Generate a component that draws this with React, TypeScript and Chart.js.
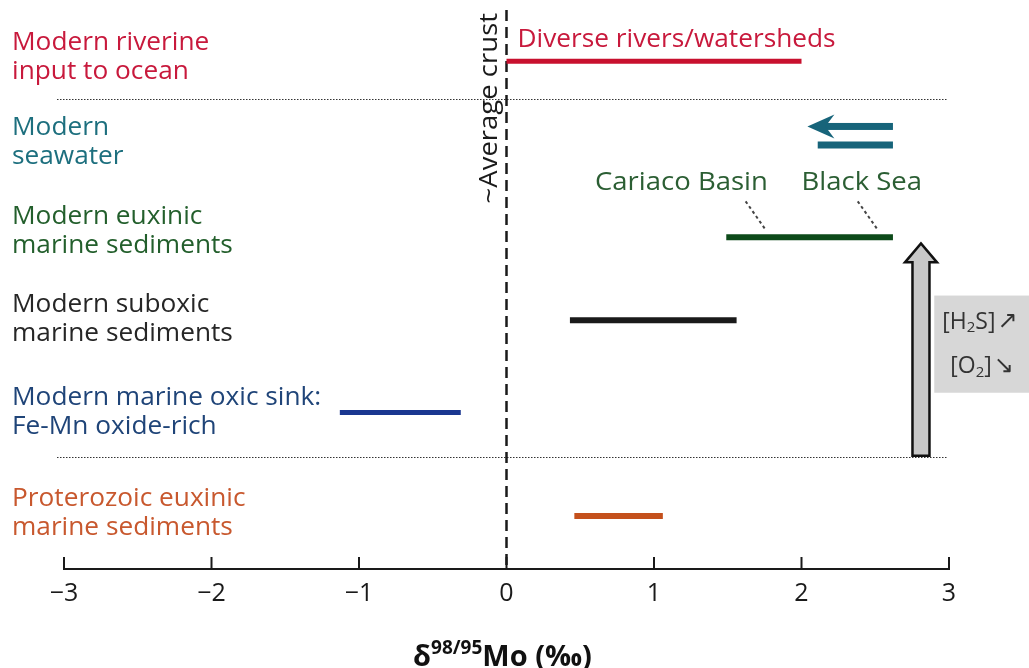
import React, { useEffect, useRef } from "react";
import { Chart, registerables } from "chart.js";
Chart.register(...registerables);

// ---------------- data ----------------
const rowLabels: string[][] = [
  ["Modern riverine", "input to ocean"],
  ["Modern", "seawater"],
  ["Modern euxinic", "marine sediments"],
  ["Modern suboxic", "marine sediments"],
  ["Modern marine oxic sink:", "Fe-Mn oxide-rich"],
  ["Proterozoic euxinic", "marine sediments"],
];
const riverineRange = [0, 2.0];
const seawaterArrowRange = [2.04, 2.62];
const seawaterRange = [2.11, 2.62];
const euxinicRange = [1.49, 2.62];
const suboxicRange = [0.43, 1.56];
const oxicRange = [-1.13, -0.31];
const proterozoicRange = [0.46, 1.06];
const xTickValues = [-3, -2, -1, 0, 1, 2, 3];
const averageCrustValue = 0;
const averageCrustLabel = "~Average crust";
const riverineNote = "Diverse rivers/watersheds";
const basinLabels = ["Cariaco Basin", "Black Sea"];
const basinLabelLeft = [0.6, 2.0];
const basinLeaderValues = [1.75, 2.51];
const trendArrowValue = 2.81;
const trendLabels = [["[H", "2", "S]", "\u2197"], ["[O", "2", "]", "\u2198"]];
const axisTitleParts = ["\u03b4", "98/95", "Mo (\u2030)"];

// ---------------- layout / style ----------------
const W = 1029;
const H = 668;
const FONT = '"Open Sans", "DejaVu Sans", sans-serif';
const rowTextColors = ["#c8193c", "#1d6f7e", "#235f2c", "#262626", "#1f4478", "#c8582e"];
const rowLabelY = [0.505, 1.42, 2.376, 3.32, 4.32, 5.4];
const rowY = { riverine: 0.55, seawaterArrow: 1.25, seawater: 1.45, euxinic: 2.44, suboxic: 3.33, oxic: 4.32, proterozoic: 5.43 };
const separatorY = [0.957, 4.796];
const basinLabelY = 1.86;
const riverineNoteY = 0.323;
const boxY = [3.065, 4.108];
const boxLeftValue = 2.9;
const trendLabelY = [3.35, 3.83];
const crustLabelY = 1.054;

function seg(range: number[], y: number, color: string, width: number) {
  return {
    type: "line" as const,
    data: [
      { x: range[0], y },
      { x: range[1], y },
    ],
    borderColor: color,
    borderWidth: width,
    borderCapStyle: "butt" as const,
    pointRadius: 0,
    showLine: true,
    fill: false,
  };
}

function drawText(ctx: CanvasRenderingContext2D, text: string, x: number, y: number, font: string, color: string, sx = 1.05, align: CanvasTextAlign = "left") {
  ctx.save();
  ctx.font = font;
  ctx.fillStyle = color;
  ctx.textBaseline = "middle";
  ctx.textAlign = align;
  ctx.translate(x, y);
  ctx.scale(sx, 1);
  ctx.fillText(text, 0, 0);
  ctx.restore();
}

const overlay = {
  id: "overlay",
  beforeDatasetsDraw(chart: any) {
    const { ctx, chartArea, scales } = chart;
    const xs = scales.x;
    const ys = scales.y;
    ctx.save();
    // separators
    ctx.strokeStyle = "#333";
    ctx.lineWidth = 1.2;
    ctx.setLineDash([1.5, 1.5]);
    separatorY.forEach((v) => {
      const y = Math.round(ys.getPixelForValue(v)) + 0.5;
      ctx.beginPath();
      ctx.moveTo(xs.left - 7, y);
      ctx.lineTo(xs.right - 2, y);
      ctx.stroke();
    });
    // dashed average crust line
    const cx = xs.getPixelForValue(averageCrustValue);
    ctx.setLineDash([11, 6]);
    ctx.lineWidth = 2.5;
    ctx.strokeStyle = "#1a1a1a";
    ctx.beginPath();
    ctx.moveTo(cx, chartArea.top);
    ctx.lineTo(cx, chartArea.bottom);
    ctx.stroke();
    ctx.setLineDash([]);
    // gray box
    const bx = xs.getPixelForValue(boxLeftValue);
    const by0 = ys.getPixelForValue(boxY[0]);
    const by1 = ys.getPixelForValue(boxY[1]);
    ctx.fillStyle = "#d7d7d7";
    ctx.fillRect(bx, by0, W - bx, by1 - by0);
    ctx.restore();
  },
  afterDatasetsDraw(chart: any) {
    const { ctx, chartArea, scales } = chart;
    const xs = scales.x;
    const ys = scales.y;
    ctx.save();
    // axis line and upward ticks
    ctx.strokeStyle = "#1a1a1a";
    ctx.lineWidth = 2;
    const ay = chartArea.bottom;
    ctx.beginPath();
    ctx.moveTo(xs.left, ay);
    ctx.lineTo(xs.right, ay);
    ctx.stroke();
    xTickValues.forEach((v) => {
      const x = xs.getPixelForValue(v);
      ctx.beginPath();
      ctx.moveTo(x, ay + 1);
      ctx.lineTo(x, ay - 12);
      ctx.stroke();
    });

    // row labels
    rowLabels.forEach((lines, i) => {
      const cy = ys.getPixelForValue(rowLabelY[i]);
      lines.forEach((t, j) => {
        drawText(ctx, t, 12, cy + (j - 0.5) * 29, `25px ${FONT}`, rowTextColors[i]);
      });
    });

    // riverine note
    drawText(ctx, riverineNote, xs.getPixelForValue(averageCrustValue) + 11, ys.getPixelForValue(riverineNoteY), `25px ${FONT}`, "#c8193c");

    // basin labels + leaders
    const by = ys.getPixelForValue(basinLabelY);
    basinLabels.forEach((t, i) => {
      drawText(ctx, t, xs.getPixelForValue(basinLabelLeft[i]), by, `25px ${FONT}`, "#2b5e33", 1.1, "left");
    });
    ctx.strokeStyle = "#444";
    ctx.lineWidth = 2;
    ctx.setLineDash([3, 3]);
    basinLeaderValues.forEach((v) => {
      const x1 = xs.getPixelForValue(v);
      const y1 = ys.getPixelForValue(rowY.euxinic) - 9;
      ctx.beginPath();
      ctx.moveTo(x1 - 19, y1 - 27);
      ctx.lineTo(x1, y1);
      ctx.stroke();
    });
    ctx.setLineDash([]);

    // seawater arrow
    const tip = xs.getPixelForValue(seawaterArrowRange[0]);
    const tail = xs.getPixelForValue(seawaterArrowRange[1]);
    const sy = ys.getPixelForValue(rowY.seawaterArrow);
    ctx.fillStyle = "#17647a";
    ctx.fillRect(tip + 16, sy - 3.5, tail - tip - 16, 7);
    ctx.beginPath();
    ctx.moveTo(tip, sy);
    ctx.lineTo(tip + 27, sy - 12);
    ctx.lineTo(tip + 18, sy);
    ctx.lineTo(tip + 27, sy + 12);
    ctx.closePath();
    ctx.fill();

    // trend arrow (gray, outlined)
    const gx = xs.getPixelForValue(trendArrowValue);
    const gBottom = ys.getPixelForValue(separatorY[1]) - 1;
    const gTip = ys.getPixelForValue(rowY.euxinic) + 6;
    const headBase = gTip + 19;
    ctx.beginPath();
    ctx.moveTo(gx - 8.5, gBottom);
    ctx.lineTo(gx - 8.5, headBase);
    ctx.lineTo(gx - 16, headBase);
    ctx.lineTo(gx, gTip);
    ctx.lineTo(gx + 16, headBase);
    ctx.lineTo(gx + 8.5, headBase);
    ctx.lineTo(gx + 8.5, gBottom);
    ctx.closePath();
    ctx.fillStyle = "#c8c8c8";
    ctx.fill();
    ctx.strokeStyle = "#111";
    ctx.lineWidth = 2.5;
    ctx.lineJoin = "miter";
    ctx.stroke();

    // trend labels
    const bxl = xs.getPixelForValue(boxLeftValue);
    trendLabels.forEach((parts, i) => {
      const ty = ys.getPixelForValue(trendLabelY[i]);
      let x = bxl + (i === 0 ? 8 : 16);
      ctx.textBaseline = "middle";
      ctx.textAlign = "left";
      ctx.fillStyle = "#333";
      parts.forEach((p, k) => {
        const isSub = k === 1;
        ctx.font = isSub ? `15px ${FONT}` : k === 3 ? `24px "DejaVu Sans", sans-serif` : `23px ${FONT}`;
        ctx.fillText(p, x, ty + (isSub ? 6 : 0));
        x += ctx.measureText(p).width + (k === 2 ? 2 : 0);
      });
    });

    // average crust rotated label
    ctx.save();
    ctx.translate(xs.getPixelForValue(averageCrustValue) - 17, ys.getPixelForValue(crustLabelY));
    ctx.rotate(-Math.PI / 2);
    ctx.font = `25px ${FONT}`;
    ctx.fillStyle = "#1a1a1a";
    ctx.textAlign = "center";
    ctx.textBaseline = "middle";
    ctx.scale(1.1, 1);
    ctx.fillText(averageCrustLabel, 0, 0);
    ctx.restore();

    // axis title
    const bigFont = `bold 29px ${FONT}`;
    const supFont = `bold 19px ${FONT}`;
    ctx.font = bigFont;
    const w0 = ctx.measureText(axisTitleParts[0]).width;
    const w2 = ctx.measureText(axisTitleParts[2]).width;
    ctx.font = supFont;
    const w1 = ctx.measureText(axisTitleParts[1]).width;
    const total = w0 + w1 + w2;
    let tx = xs.getPixelForValue(0) - 4 - total / 2;
    const tyb = 666;
    ctx.fillStyle = "#111";
    ctx.textAlign = "left";
    ctx.textBaseline = "alphabetic";
    ctx.font = bigFont;
    ctx.fillText(axisTitleParts[0], tx, tyb);
    tx += w0;
    ctx.font = supFont;
    ctx.fillText(axisTitleParts[1], tx, tyb - 12);
    tx += w1;
    ctx.font = bigFont;
    ctx.fillText(axisTitleParts[2], tx, tyb);
    ctx.restore();
  },
};

export default function App() {
  const ref = useRef<HTMLCanvasElement | null>(null);
  useEffect(() => {
    if (!ref.current) return;
    const chart = new Chart(ref.current, {
      type: "line",
      data: {
        datasets: [
          seg(riverineRange, rowY.riverine, "#c8102e", 5),
          seg(seawaterRange, rowY.seawater, "#17647a", 7),
          seg(euxinicRange, rowY.euxinic, "#0d4a1a", 6),
          seg(suboxicRange, rowY.suboxic, "#1a1a1a", 6),
          seg(oxicRange, rowY.oxic, "#1a3790", 5),
          seg(proterozoicRange, rowY.proterozoic, "#c4501c", 6),
        ],
      },
      options: {
        responsive: false,
        animation: false,
        events: [],
        layout: { padding: { top: 10, left: 64, right: 80, bottom: 49 } },
        plugins: { legend: { display: false }, tooltip: { enabled: false } },
        scales: {
          x: {
            type: "linear",
            min: -3,
            max: 3,
            afterBuildTicks: (scale: any) => {
              scale.ticks = xTickValues.map((v) => ({ value: v }));
            },
            grid: { display: false, drawTicks: false },
            border: { display: false },
            ticks: {
              padding: 10,
              color: "#1a1a1a",
              font: { family: FONT, size: 25 },
              callback: (v: any) => (Number(v) < 0 ? "\u2212" + Math.abs(Number(v)) : String(v)),
            },
          },
          y: { type: "linear", min: 0, max: 6, reverse: true, display: false },
        },
      },
      plugins: [overlay],
    });
    return () => chart.destroy();
  }, []);
  return (
    <div style={{ position: "fixed", left: 0, top: 0, width: W, height: H, background: "#fff" }}>
      <canvas ref={ref} width={W} height={H} style={{ display: "block" }} />
    </div>
  );
}
